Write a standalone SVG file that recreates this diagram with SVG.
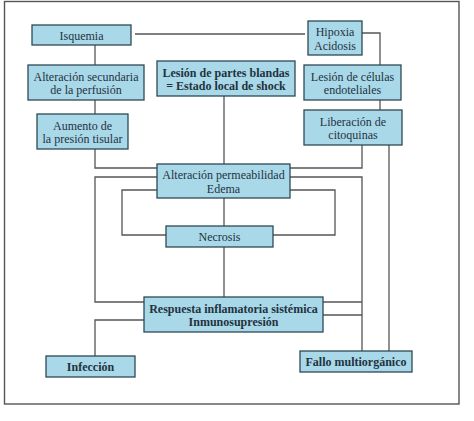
<svg xmlns="http://www.w3.org/2000/svg" width="474" height="421" viewBox="0 0 474 421">
<style>
.box{fill:#a9d8e8;stroke:#2f4a55;stroke-width:1.3}
.t{font-family:"Liberation Serif","Times New Roman",serif;font-size:12px;fill:#1f3340;text-anchor:middle}
.b{font-weight:bold}
.ln{fill:none;stroke:#555;stroke-width:1.3}
</style>
<rect x="0" y="0" width="474" height="421" fill="#fff"/>
<rect x="4.5" y="1.5" width="454.5" height="402.5" fill="none" stroke="#555" stroke-width="1.4"/>
<g id="connectors" class="ln">
<path d="M135,34 H305"/>
<path d="M362,33 H380 V65"/>
<path d="M95,45 V65"/>
<path d="M95,100 V114"/>
<path d="M95,149 V168 H157"/>
<path d="M224,96 V164"/>
<path d="M380,100 V110"/>
<path d="M362,145 V168 H290"/>
<path d="M389,145 V351"/>
<path d="M157,177 H95 V302 H144"/>
<path d="M290,177 H362 V351"/>
<path d="M323,302 H362"/>
<path d="M323,315 H362"/>
<path d="M157,190 H122 V235 H166"/>
<path d="M290,190 H335 V235 H273"/>
<path d="M224,198 V226"/>
<path d="M224,247 V297"/>
<path d="M144,320 H95 V356"/>
</g>
<g id="isquemia"><rect class="box" x="32" y="25" width="99" height="20"/><text class="t" x="81.5" y="39.5">Isquemia</text></g>
<g id="hipoxia"><rect class="box" x="308" y="21" width="54" height="34"/><text class="t" x="335" y="36">Hipoxia</text><text class="t" x="335" y="49.5">Acidosis</text></g>
<g id="alteracion-secundaria"><rect class="box" x="28" y="65" width="116" height="35"/><text class="t" x="86" y="80.5">Alteración secundaria</text><text class="t" x="86" y="94">de la perfusión</text></g>
<g id="lesion-partes"><rect class="box" x="157" y="61" width="138" height="35"/><text class="t b" x="226" y="76.5">Lesión de partes blandas</text><text class="t b" x="226" y="90">= Estado local de shock</text></g>
<g id="lesion-celulas"><rect class="box" x="304" y="65" width="97" height="35"/><text class="t" x="352.5" y="80.5">Lesión de células</text><text class="t" x="352.5" y="94">endoteliales</text></g>
<g id="aumento"><rect class="box" x="37" y="114" width="91" height="35"/><text class="t" x="82.5" y="129.5">Aumento de</text><text class="t" x="82.5" y="143">la presión tisular</text></g>
<g id="liberacion"><rect class="box" x="304" y="110" width="98" height="35"/><text class="t" x="353" y="125.5">Liberación de</text><text class="t" x="353" y="139">citoquinas</text></g>
<g id="alteracion-permeabilidad"><rect class="box" x="157" y="164" width="133" height="34"/><text class="t" x="223.5" y="179">Alteración permeabilidad</text><text class="t" x="223.5" y="192.5">Edema</text></g>
<g id="necrosis"><rect class="box" x="166" y="226" width="107" height="21"/><text class="t" x="219.5" y="240.5">Necrosis</text></g>
<g id="respuesta"><rect class="box" x="144" y="297" width="179" height="35"/><text class="t b" x="233.5" y="312.5">Respuesta inflamatoria sistémica</text><text class="t b" x="233.5" y="326">Inmunosupresión</text></g>
<g id="infeccion"><rect class="box" x="46" y="356" width="89" height="21"/><text class="t b" x="90.5" y="370.5">Infección</text></g>
<g id="fallo"><rect class="box" x="300" y="351" width="112" height="21"/><text class="t b" x="356" y="365.5">Fallo multiorgánico</text></g>
</svg>
